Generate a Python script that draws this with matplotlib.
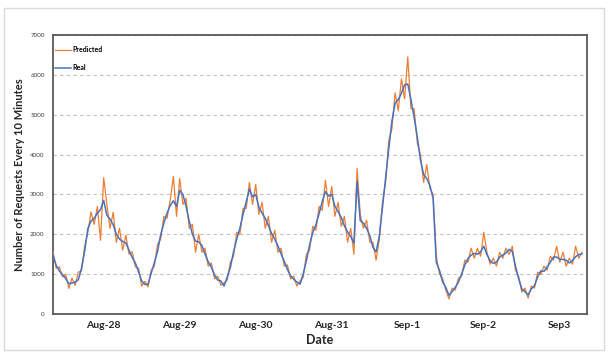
import matplotlib
matplotlib.use("Agg")
import matplotlib.pyplot as plt
from matplotlib.patches import Rectangle
import pandas as pd

plt.rcParams['font.family'] = ['Lato', 'DejaVu Sans']

# Hourly readings (requests per 10 minutes), starting Aug-27 20:00
start_time = "2017-08-27 20:00"
real = [
    1480, 1220, 1080, 990, 890, 760, 780, 800, 860, 1150, 1580, 2140,
    2330, 2400, 2530, 2620, 2850, 2480, 2380, 2240, 2000, 1880, 1820, 1780,
    1600, 1420, 1280, 1060, 830, 740, 750, 1020, 1290, 1570, 1990, 2280,
    2530, 2720, 2840, 2700, 3100, 3000, 2700, 2330, 2000, 1830, 1810, 1720,
    1500, 1310, 1170, 980, 850, 830, 700, 930, 1170, 1560, 1880, 2150,
    2500, 2820, 3130, 2940, 3000, 2680, 2530, 2400, 2220, 2020, 1880, 1710,
    1510, 1320, 1120, 960, 870, 800, 750, 1010, 1340, 1730, 2040, 2240,
    2520, 2820, 3070, 2960, 3000, 2700, 2570, 2420, 2210, 2060, 1940, 1780,
    3330, 2340, 2280, 2150, 1970, 1670, 1560, 1950, 2660, 3400, 4150, 4840,
    5290, 5380, 5540, 5750, 5770, 5380, 4940, 4440, 3870, 3500, 3400, 3220,
    2900, 1300, 1100, 800, 670, 470, 560, 670, 800, 1000, 1230, 1390,
    1480, 1520, 1500, 1560, 1700, 1490, 1340, 1270, 1300, 1430, 1480, 1530,
    1620, 1570, 1200, 890, 630, 560, 480, 630, 710, 930, 1080, 1070,
    1180, 1300, 1430, 1430, 1370, 1370, 1350, 1280, 1340, 1440, 1490, 1510,
]
predicted = [
    1560, 1150, 1180, 930, 1000, 640, 900, 720, 1050, 1080, 1700, 2050,
    2560, 2250, 2700, 1850, 3420, 2750, 2150, 2550, 1800, 2150, 1600, 1980,
    1500, 1560, 1180, 1150, 700, 820, 680, 1100, 1200, 1750, 1880, 2450,
    2400, 2850, 3450, 2450, 3400, 2750, 2900, 2150, 2250, 1550, 2000, 1550,
    1650, 1200, 1280, 880, 950, 720, 780, 850, 1300, 1450, 2050, 2000,
    2650, 2650, 3300, 2750, 3250, 2500, 2800, 2150, 2450, 1800, 2100, 1550,
    1650, 1200, 1230, 880, 950, 700, 830, 920, 1500, 1600, 2200, 2100,
    2700, 2600, 3350, 2700, 3200, 2450, 2800, 2200, 2450, 1800, 2150, 1500,
    3650, 2500, 2150, 2350, 1800, 1800, 1350, 1850, 2800, 3300, 4350, 4650,
    5550, 5100, 5900, 5400, 6450, 5150, 5150, 4300, 4000, 3300, 3750, 3150,
    3000, 1450, 1000, 900, 600, 380, 650, 600, 900, 950, 1350, 1300,
    1650, 1400, 1650, 1450, 2050, 1550, 1250, 1400, 1200, 1550, 1400, 1650,
    1500, 1700, 1100, 950, 550, 650, 400, 700, 650, 1050, 1000, 1200,
    1100, 1450, 1350, 1700, 1300, 1550, 1200, 1400, 1250, 1700, 1400, 1550,
]
tick_dates = ["2017-08-28 12:00", "2017-08-29 12:00", "2017-08-30 12:00",
              "2017-08-31 12:00", "2017-09-01 12:00", "2017-09-02 12:00",
              "2017-09-03 12:00"]
tick_labels = ["Aug-28", "Aug-29", "Aug-30", "Aug-31", "Sep-1", "Sep-2", "Sep3"]
y_ticks = [0, 1000, 2000, 3000, 4000, 5000, 6000, 7000]

times = pd.date_range(start_time, periods=len(real), freq="h")

W, H = 609, 357
fig = plt.figure(figsize=(W / 100, H / 100), dpi=100)
fig.patches.append(Rectangle((4 / W, 1 - 350 / H), 600 / W, 342 / H,
                             transform=fig.transFigure, fill=False,
                             edgecolor="#D9D9D9", linewidth=1))

ax = fig.add_axes([53 / W, 1 - 314 / H, (587 - 53) / W, (314 - 35) / H])

ax.plot(times, predicted, color="#ED7D31", linewidth=0.9, label="Predicted", zorder=3)
ax.plot(times, real, color="#4472C4", linewidth=1.1, label="Real", zorder=4)

ax.set_ylim(0, 7000)
ax.set_xlim(times[0], times[-1] + pd.Timedelta(minutes=95))
ax.set_yticks(y_ticks)
ax.set_yticklabels([str(v) for v in y_ticks], fontsize=4.5, color="#404040")
ax.set_xticks(pd.to_datetime(tick_dates))
ax.set_xticklabels(tick_labels, fontsize=7.5, fontweight="bold", color="#262626")
ax.tick_params(axis="both", length=0)
ax.tick_params(axis="y", pad=6)
ax.tick_params(axis="x", pad=5)

ax.yaxis.grid(True, linestyle=(0, (3, 3)), color="#BFBFBF", linewidth=0.8)
ax.set_axisbelow(True)
for s in ax.spines.values():
    s.set_color("#595959")
    s.set_linewidth(1.3)

ax.set_xlabel("Date", fontsize=9, fontweight="bold", color="#262626", labelpad=3)
ax.set_ylabel("Number of Requests Every 10 Minutes", fontsize=8,
              fontweight="bold", color="#262626", labelpad=4)

ax.legend(loc="upper left", bbox_to_anchor=(0.004, 0.96), frameon=False,
          prop={"size": 5, "weight": "bold"}, handlelength=2.3,
          handletextpad=0.2, labelspacing=1.6, borderaxespad=0, borderpad=0)

fig.savefig("out.png", dpi=100, facecolor="white")
